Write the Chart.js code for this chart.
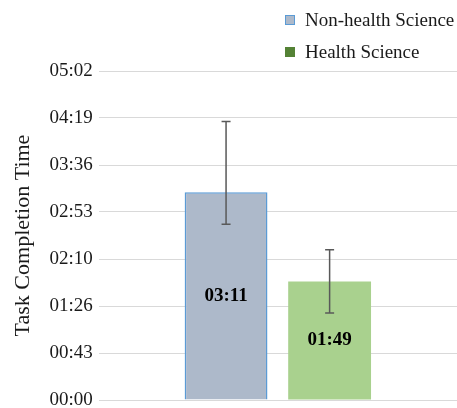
<!DOCTYPE html>
<html><head><meta charset="utf-8">
<script src="https://cdn.jsdelivr.net/npm/chart.js@4"></script>
<style>html,body{margin:0;padding:0;background:#fff}canvas{display:block}</style>
</head><body>
<canvas id="c" width="457" height="408"></canvas>
<script>
const categories = ['Task Completion'];
const seriesNames = ['Non-health Science', 'Health Science'];
const meanSeconds = [191, 109];
const errUpper = [256, 138];
const errLower = [161.5, 80];
const tickValues = [0, 43.2, 86.4, 129.6, 172.8, 216, 259.2, 302.4];
const tickLabels = ['00:00', '00:43', '01:26', '02:10', '02:53', '03:36', '04:19', '05:02'];

const barFills = ['#ADB9CA', '#A9D18E'];
const barBorders = ['#5B9BD5', '#A9D18E'];
const legendFills = ['#ADB9CA', '#548235'];
const legendBorders = ['#5B9BD5', '#548235'];
const FONT = "'Liberation Serif', 'Times New Roman', serif";

function fmt(sec) {
  const s = Math.round(sec);
  const m = Math.floor(s / 60), r = s % 60;
  return String(m).padStart(2, '0') + ':' + String(r).padStart(2, '0');
}

const errorBars = {
  id: 'errorBars',
  afterDatasetsDraw(chart) {
    const ctx = chart.ctx, y = chart.scales.y;
    ctx.save();
    ctx.strokeStyle = '#595959';
    ctx.lineWidth = 1.5;
    chart.data.datasets.forEach((ds, i) => {
      const el = chart.getDatasetMeta(i).data[0];
      const yt = y.getPixelForValue(errUpper[i]);
      const yb = y.getPixelForValue(errLower[i]);
      ctx.beginPath();
      ctx.moveTo(el.x, yt); ctx.lineTo(el.x, yb);
      ctx.moveTo(el.x - 4.5, yt); ctx.lineTo(el.x + 4.5, yt);
      ctx.moveTo(el.x - 4.5, yb); ctx.lineTo(el.x + 4.5, yb);
      ctx.stroke();
    });
    ctx.restore();
  }
};

const dataLabels = {
  id: 'dataLabels',
  afterDraw(chart) {
    const ctx = chart.ctx;
    ctx.save();
    ctx.font = 'bold 19px ' + FONT;
    ctx.fillStyle = '#000';
    ctx.textAlign = 'center';
    ctx.textBaseline = 'middle';
    chart.data.datasets.forEach((ds, i) => {
      const el = chart.getDatasetMeta(i).data[0];
      ctx.fillText(fmt(meanSeconds[i]), el.x, (el.y + el.base) / 2);
    });
    ctx.restore();
  }
};

const customLegend = {
  id: 'customLegend',
  afterDraw(chart) {
    const ctx = chart.ctx;
    ctx.save();
    ctx.font = '19px ' + FONT;
    ctx.textBaseline = 'middle';
    ctx.textAlign = 'left';
    seriesNames.forEach((name, i) => {
      const cy = 20 + i * 32;
      ctx.fillStyle = legendFills[i];
      ctx.fillRect(285, cy - 5, 10, 10);
      ctx.strokeStyle = legendBorders[i];
      ctx.lineWidth = 1;
      ctx.strokeRect(285.5, cy - 4.5, 9, 9);
      ctx.fillStyle = '#1a1a1a';
      ctx.fillText(name, 305, cy + 1);
    });
    ctx.restore();
  }
};

new Chart(document.getElementById('c'), {
  type: 'bar',
  data: {
    labels: categories,
    datasets: seriesNames.map((n, i) => ({
      label: n,
      data: [meanSeconds[i]],
      backgroundColor: barFills[i],
      borderColor: barBorders[i],
      borderWidth: i === 0 ? 1.5 : 0,
      categoryPercentage: 0.578,
      barPercentage: 0.8
    }))
  },
  options: {
    responsive: false,
    animation: false,
    layout: { padding: { top: 71, left: 10, right: -6, bottom: 8 } },
    plugins: { legend: { display: false }, tooltip: { enabled: false } },
    scales: {
      x: { display: false },
      y: {
        min: 0, max: 302.4,
        afterBuildTicks: (s) => { s.ticks = tickValues.map(v => ({ value: v })); },
        afterFit: (s) => { s.paddingTop = 0; s.paddingBottom = 0; },
        ticks: {
          callback: (v, i) => tickLabels[i],
          font: { family: FONT, size: 19 },
          color: '#1a1a1a',
          padding: 6
        },
        grid: { color: '#D9D9D9', lineWidth: 1, drawTicks: false },
        border: { display: false },
        title: {
          display: true, text: 'Task Completion Time',
          font: { family: FONT, size: 22 }, color: '#1a1a1a',
          padding: { top: 0, bottom: 7 }
        }
      }
    }
  },
  plugins: [errorBars, dataLabels, customLegend]
});
</script>
</body></html>
